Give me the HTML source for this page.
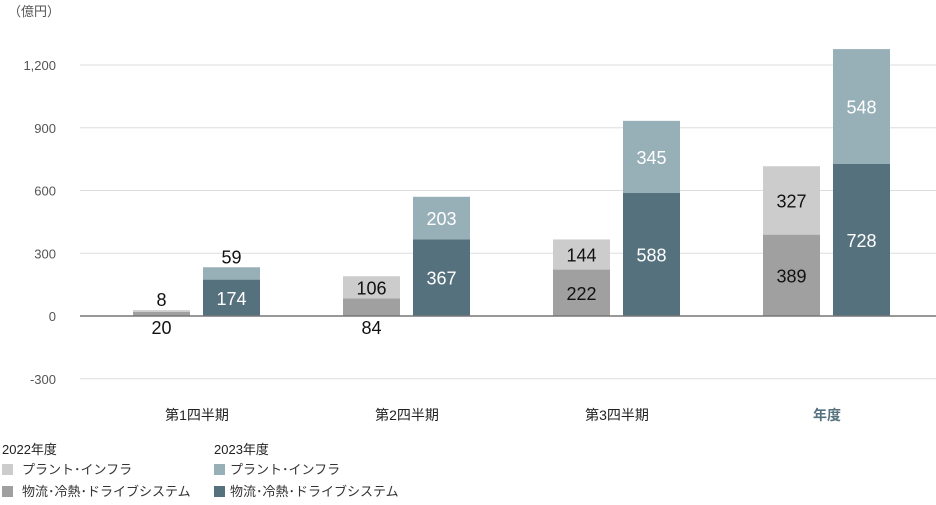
<!DOCTYPE html>
<html><head><meta charset="utf-8"><style>
body{margin:0;background:#fff;font-family:"Liberation Sans","Noto Sans CJK JP",sans-serif;}
svg text{font-family:"Liberation Sans","Noto Sans CJK JP",sans-serif;}
</style></head><body>
<svg id="chart" width="936" height="500" viewBox="0 0 936 500" xmlns="http://www.w3.org/2000/svg">
<text x="8" y="16" font-size="13" fill="#555">（億円）</text>
<g id="grid"></g><g id="bars"></g><g id="labels"></g>
<g font-size="13" fill="#222">
<text x="2" y="454">2022年度</text>
<rect x="2" y="464" width="11" height="11" fill="#cccccc"/>
<text x="22" y="474" fill="#333">プラント･インフラ</text>
<rect x="2" y="486" width="11" height="11" fill="#a0a0a0"/>
<text x="22" y="496" fill="#333">物流･冷熱･ドライブシステム</text>
<text x="214" y="454">2023年度</text>
<rect x="214" y="464" width="11" height="11" fill="#97b0b8"/>
<text x="230" y="474" fill="#333">プラント･インフラ</text>
<rect x="214" y="486" width="11" height="11" fill="#56717e"/>
<text x="230" y="496" fill="#333">物流･冷熱･ドライブシステム</text>
</g>
</svg>
<script>
const categories = ["第1四半期","第2四半期","第3四半期","年度"];
const logistics2022 = [20, 84, 222, 389];
const plant2022 = [8, 106, 144, 327];
const logistics2023 = [174, 367, 588, 728];
const plant2023 = [59, 203, 345, 548];
const yTicks = [-300, 0, 300, 600, 900, 1200];
const yTickLabels = ["-300","0","300","600","900","1,200"];

const NS = "http://www.w3.org/2000/svg";
const zeroY = 316, pxPer = 251/1200;
function y(v){ return zeroY - v*pxPer; }
function catX(i){ return 197 + i*210; }
const BW = 57;
function mk(tag, attrs, parent){ const e=document.createElementNS(NS,tag); for(const k in attrs) e.setAttribute(k,attrs[k]); parent.appendChild(e); return e; }
const grid=document.getElementById('grid'), bars=document.getElementById('bars'), labels=document.getElementById('labels');
yTicks.forEach((t,i)=>{
  if(t!==0){ const l=mk('line',{x1:80,x2:936,y1:y(t),y2:y(t),stroke:'#dddddd','stroke-width':1},grid);
  
   }
  const tx=mk('text',{x:56,y:y(t)+5,'font-size':13,fill:'#555','text-anchor':'end'},grid);
  tx.textContent=yTickLabels[i];
  
  
});
categories.forEach((c,i)=>{
  const t=mk('text',{x:catX(i),y:420,'font-size':14,fill:i===3?'#56717e':'#222','text-anchor':'middle','font-weight':i===3?'bold':'normal'},labels);
  t.textContent=c;
  
  
  const groups=[
    {x:catX(i)-64, segs:[[logistics2022[i],'#a0a0a0','#111'],[plant2022[i],'#cccccc','#111']], name:'2022'},
    {x:catX(i)+6, segs:[[logistics2023[i],'#56717e','#fff'],[plant2023[i],'#97b0b8','#fff']], name:'2023'}
  ];
  groups.forEach(g=>{
    let base=0;
    g.segs.forEach((s,k)=>{
      const top=base+s[0];
      const r=mk('rect',{x:g.x,y:y(top),width:BW,height:y(base)-y(top),fill:s[1]},bars);
      
      
      const h=y(base)-y(top);
      let ly, col=s[2];
      if(h>=18){ ly=(y(base)+y(top))/2+7; }
      else if(k===0){ ly=y(0)+18; col='#111'; }
      else { ly=y(top)-4; col='#111'; }
      const lt=mk('text',{x:g.x+BW/2,y:ly,'font-size':18,fill:col,'text-anchor':'middle'},labels);
      lt.textContent=s[0];
      
      
      base=top;
    });
  });
});
const z=mk('line',{x1:80,x2:936,y1:zeroY,y2:zeroY,stroke:'#777','stroke-width':1.5},labels);


</script>
</body></html>
